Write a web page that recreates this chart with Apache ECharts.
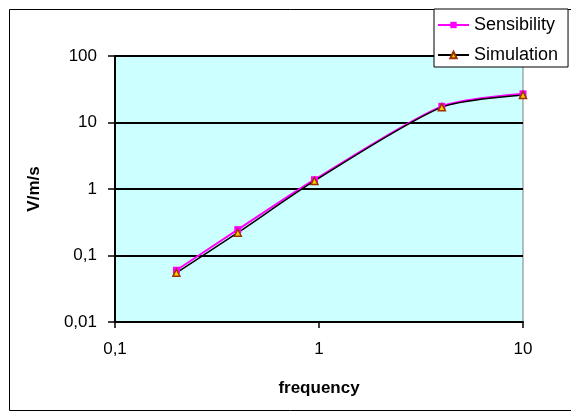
<!DOCTYPE html>
<html>
<head>
<meta charset="utf-8">
<script src="https://cdn.jsdelivr.net/npm/echarts@6/dist/echarts.min.js"></script>
<style>
  html, body { margin: 0; padding: 0; background: #fff; }
  #chart { width: 571px; height: 413px; }
</style>
</head>
<body>
<div id="chart"></div>
<script>
// frequency points (x) and measured values (y)
const frequency = [0.2, 0.4, 0.95, 4, 10]
const sensibility = [0.06, 0.245, 1.38, 17.5, 27]
const simulation = [0.055, 0.22, 1.32, 17, 26]

// tick labels, written with a decimal comma like the original
const xTicks = [0.1, 1, 10]
const xTickLabels = ['0,1', '1', '10']
const yTicks = [0.01, 0.1, 1, 10, 100]
const yTickLabels = ['0,01', '0,1', '1', '10', '100']

const pickLabel = (ticks, labels) => (value) => {
    const i = ticks.findIndex(t => Math.abs(Math.log10(t) - Math.log10(value)) < 1e-6)
    return i >= 0 ? labels[i] : ''
}

const font = 'Liberation Sans, Arial, sans-serif'

const chart = echarts.init(document.getElementById('chart'))

chart.setOption({
    animation: false,
    textStyle: { fontFamily: font },
    graphic: [
        // outer chart border (runs off the right edge like the original)
        {
            type: 'rect',
            z: -10,
            shape: { x: 9.5, y: 9.5, width: 600, height: 401 },
            style: { fill: '#fff', stroke: '#000', lineWidth: 1 }
        }
    ],
    legend: {
        orient: 'vertical',
        left: 434,
        top: 9,
        padding: [7, 10, 3, 3],
        itemGap: 12,
        itemWidth: 31,
        itemHeight: 8,
        backgroundColor: '#fff',
        borderColor: '#000',
        borderWidth: 1,
        textStyle: { fontFamily: font, fontSize: 18, color: '#000' },
        data: ['Sensibility', 'Simulation']
    },
    grid: {
        left: 115,
        right: 48,
        top: 56,
        bottom: 91,
        show: true,
        backgroundColor: '#ccffff',
        borderColor: '#808080',
        borderWidth: 1
    },
    xAxis: {
        type: 'log',
        logBase: 10,
        min: 0.1,
        max: 10,
        name: 'frequency',
        nameLocation: 'middle',
        nameGap: 58,
        nameTextStyle: { fontFamily: font, fontSize: 17, fontWeight: 'bold', color: '#000' },
        axisLine: { show: true, lineStyle: { color: '#000', width: 2 } },
        axisTick: { show: true, length: 6, lineStyle: { color: '#000', width: 1.5 } },
        minorTick: { show: false },
        splitLine: { show: false },
        axisLabel: {
            margin: 19,
            fontSize: 17,
            color: '#000',
            formatter: pickLabel(xTicks, xTickLabels)
        }
    },
    yAxis: {
        type: 'log',
        logBase: 10,
        min: 0.01,
        max: 100,
        name: 'V/m/s',
        nameLocation: 'middle',
        nameGap: 72,
        nameTextStyle: { fontFamily: font, fontSize: 17, fontWeight: 'bold', color: '#000' },
        axisLine: { show: true, lineStyle: { color: '#000', width: 2 } },
        axisTick: { show: true, length: 7, lineStyle: { color: '#000', width: 1.5 } },
        minorTick: { show: false },
        splitLine: { show: true, lineStyle: { color: '#000', width: 2 } },
        axisLabel: {
            margin: 18,
            fontSize: 17,
            color: '#000',
            formatter: pickLabel(yTicks, yTickLabels)
        }
    },
    series: [
        {
            name: 'Sensibility',
            type: 'line',
            smooth: 0.25,
            data: frequency.map((f, i) => [f, sensibility[i]]),
            symbol: 'rect',
            symbolSize: 7,
            lineStyle: { color: '#ff00ff', width: 2 },
            itemStyle: { color: '#ff00ff' }
        },
        {
            name: 'Simulation',
            type: 'line',
            smooth: 0.25,
            data: frequency.map((f, i) => [f, simulation[i]]),
            symbol: 'triangle',
            symbolSize: 7,
            lineStyle: { color: '#000', width: 1.5 },
            itemStyle: { color: '#ffcc00', borderColor: '#993300', borderWidth: 1.5 }
        }
    ]
})
</script>
</body>
</html>
